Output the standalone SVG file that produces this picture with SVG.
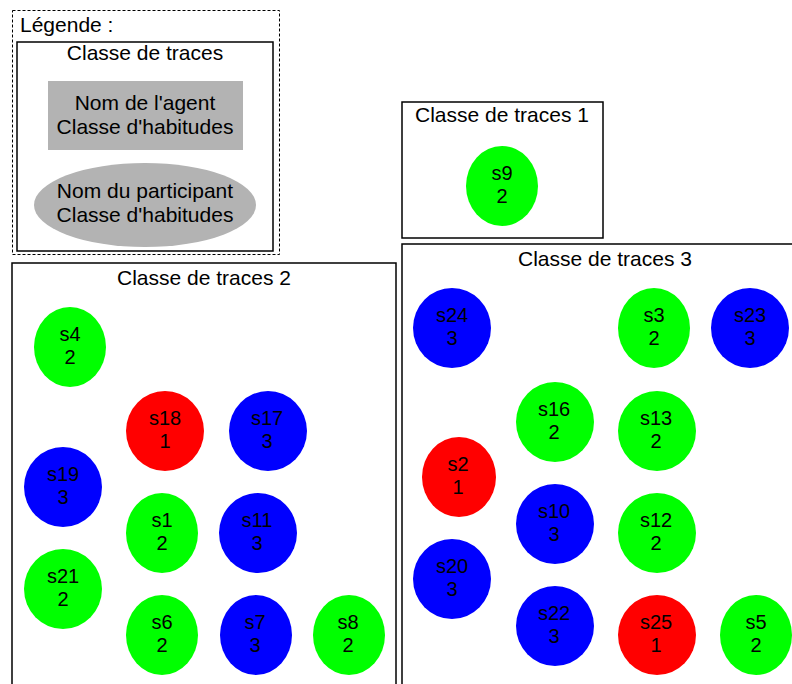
<svg xmlns="http://www.w3.org/2000/svg" width="792" height="684" viewBox="0 0 792 684">
<style>
text{font-family:"Liberation Sans",Arial,sans-serif;font-size:20px;fill:#000;text-anchor:middle}
.t{font-size:21px}
.box{fill:#fff;stroke:#000;stroke-width:1.5}
.g{fill:#00ff00}.r{fill:#ff0000}.b{fill:#0000ff}
.leg{fill:#b3b3b3}
</style>
<rect width="792" height="684" fill="#fff"/>
<g id="legend">
<rect x="12.5" y="10.5" width="267" height="244" fill="none" stroke="#000" stroke-width="1" stroke-dasharray="3,2"/>
<text class="t" x="20" y="32" style="text-anchor:start">Légende :</text>
<rect class="box" x="17" y="42" width="256" height="209"/>
<text class="t" x="145" y="60">Classe de traces</text>
<rect class="leg" x="48" y="81" width="195" height="69"/>
<text class="t" x="145" y="110">Nom de l'agent</text>
<text class="t" x="145" y="134">Classe d'habitudes</text>
<ellipse class="leg" cx="145" cy="205" rx="111" ry="42"/>
<text class="t" x="145" y="198">Nom du participant</text>
<text class="t" x="145" y="222">Classe d'habitudes</text>
</g>
<g id="classe1">
<rect class="box" x="402" y="102" width="201" height="136"/>
<text class="t" x="502" y="122">Classe de traces 1</text>
</g>
<g id="classe2">
<rect class="box" x="12" y="263" width="384" height="430"/>
<text class="t" x="204" y="285">Classe de traces 2</text>
</g>
<g id="classe3">
<rect class="box" x="402" y="244" width="410" height="450"/>
<text class="t" x="605" y="266">Classe de traces 3</text>
</g>
<g id="s9"><ellipse class="g" cx="502" cy="186" rx="36" ry="40"/><text x="502" y="180">s9</text><text x="502" y="203">2</text></g>
<g id="s4"><ellipse class="g" cx="70" cy="347" rx="36" ry="40"/><text x="70" y="341">s4</text><text x="70" y="364">2</text></g>
<g id="s18"><ellipse class="r" cx="165" cy="431" rx="39" ry="40"/><text x="165" y="425">s18</text><text x="165" y="448">1</text></g>
<g id="s17"><ellipse class="b" cx="268" cy="431" rx="39" ry="40"/><text x="267" y="425">s17</text><text x="267" y="448">3</text></g>
<g id="s19"><ellipse class="b" cx="63" cy="487" rx="39" ry="40"/><text x="63" y="481">s19</text><text x="63" y="504">3</text></g>
<g id="s1"><ellipse class="g" cx="162" cy="533" rx="36" ry="40"/><text x="162" y="527">s1</text><text x="162" y="550">2</text></g>
<g id="s11"><ellipse class="b" cx="258" cy="533" rx="39" ry="40"/><text x="257" y="527">s11</text><text x="257" y="550">3</text></g>
<g id="s21"><ellipse class="g" cx="63" cy="589" rx="39" ry="40"/><text x="63" y="583">s21</text><text x="63" y="606">2</text></g>
<g id="s6"><ellipse class="g" cx="162" cy="635" rx="36" ry="40"/><text x="162" y="629">s6</text><text x="162" y="652">2</text></g>
<g id="s7"><ellipse class="b" cx="256" cy="635" rx="36" ry="40"/><text x="255" y="629">s7</text><text x="255" y="652">3</text></g>
<g id="s8"><ellipse class="g" cx="349" cy="635" rx="36" ry="40"/><text x="348" y="629">s8</text><text x="348" y="652">2</text></g>
<g id="s24"><ellipse class="b" cx="452" cy="328" rx="39" ry="40"/><text x="452" y="322">s24</text><text x="452" y="345">3</text></g>
<g id="s3"><ellipse class="g" cx="654" cy="328" rx="36" ry="40"/><text x="654" y="322">s3</text><text x="654" y="345">2</text></g>
<g id="s23"><ellipse class="b" cx="750" cy="328" rx="39" ry="40"/><text x="750" y="322">s23</text><text x="750" y="345">3</text></g>
<g id="s16"><ellipse class="g" cx="555" cy="422" rx="39" ry="40"/><text x="554" y="416">s16</text><text x="554" y="439">2</text></g>
<g id="s13"><ellipse class="g" cx="657" cy="431" rx="39" ry="40"/><text x="656" y="425">s13</text><text x="656" y="448">2</text></g>
<g id="s2"><ellipse class="r" cx="459" cy="477" rx="37" ry="40"/><text x="458" y="471">s2</text><text x="458" y="494">1</text></g>
<g id="s10"><ellipse class="b" cx="555" cy="524" rx="39" ry="40"/><text x="554" y="518">s10</text><text x="554" y="541">3</text></g>
<g id="s12"><ellipse class="g" cx="657" cy="533" rx="39" ry="40"/><text x="656" y="527">s12</text><text x="656" y="550">2</text></g>
<g id="s20"><ellipse class="b" cx="452" cy="579" rx="39" ry="40"/><text x="452" y="573">s20</text><text x="452" y="596">3</text></g>
<g id="s22"><ellipse class="b" cx="555" cy="626" rx="39" ry="40"/><text x="554" y="620">s22</text><text x="554" y="643">3</text></g>
<g id="s25"><ellipse class="r" cx="657" cy="635" rx="39" ry="40"/><text x="656" y="629">s25</text><text x="656" y="652">1</text></g>
<g id="s5"><ellipse class="g" cx="756" cy="635" rx="36" ry="40"/><text x="756" y="629">s5</text><text x="756" y="652">2</text></g>
<g id="connectors"></g>
</svg>
